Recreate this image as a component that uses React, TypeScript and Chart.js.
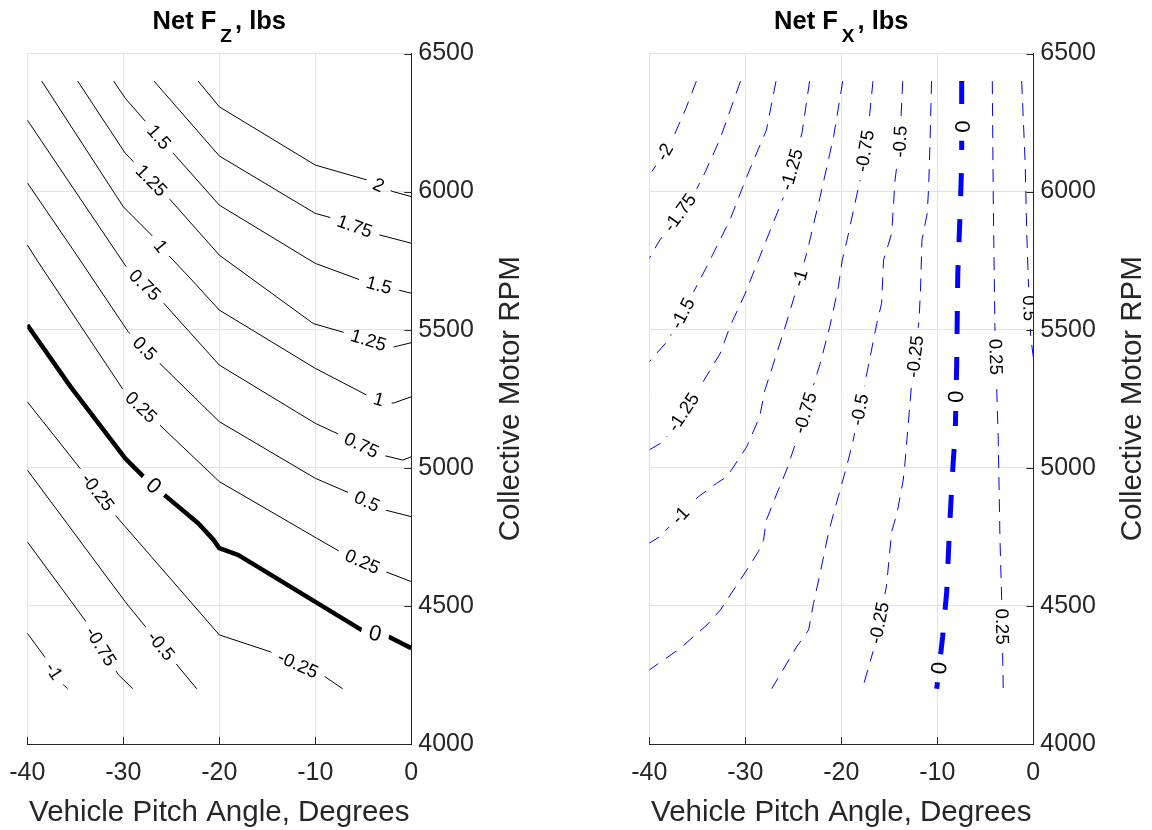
import React, { useEffect, useRef } from "react";
import { Chart, registerables } from "chart.js";
Chart.register(...registerables);

type Pt = [number, number];
type Lbl = [number, number, number]; // level, pitch, rpm

const FONT = "'Liberation Sans', Arial, Helvetica, sans-serif";
const AXIS = "#262626";
const GRID = "#e3e3e3";

const pitchTicks = [-40, -30, -20, -10, 0];
const rpmTicks = [4000, 4500, 5000, 5500, 6000, 6500];

// ---------- Net Fz contours: [pitch deg, rpm] ----------
const fzP200: Pt[] = [[-22.2, 6400], [-20, 6307], [-10, 6096], [-4.6, 6042], [-1.9, 6000], [0, 5982]];
const fzP175: Pt[] = [[-26.8, 6400], [-20, 6129], [-10, 5921], [-8.2, 5904], [-3.3, 5843], [0, 5813]];
const fzP150: Pt[] = [[-31.0, 6400], [-29.8, 6338], [-24.8, 6139], [-20, 5951], [-10, 5740], [-5.3, 5680], [-1.4, 5644], [0, 5632]];
const fzP125: Pt[] = [[-34.75, 6400], [-29.8, 6139], [-25.1, 5970], [-20, 5770], [-10.2, 5522], [-6.9, 5489], [-2.0, 5436], [0, 5453]];
const fzP100: Pt[] = [[-38.5, 6400], [-30, 5945], [-26.9, 5837], [-25.5, 5777], [-23.05, 5687], [-20, 5571], [-10, 5360], [-4.3, 5257], [-1.9, 5234], [0, 5257]];
const fzP075: Pt[] = [[-40, 6259], [-29.7, 5728], [-25.8, 5596], [-20, 5372], [-10, 5161], [-7.4, 5119], [-3.0, 5046], [-0.9, 5028], [0, 5040]];
const fzP050: Pt[] = [[-40, 6032], [-34.5, 5752], [-29.5, 5493], [-26.2, 5378], [-20, 5167], [-10, 4962], [-6.4, 4908], [-2.7, 4847], [0, 4823]];
const fzP025: Pt[] = [[-40, 5807], [-39, 5752], [-30, 5282], [-26.2, 5155], [-20, 4950], [-9.85, 4745], [-7.4, 4696], [-2.7, 4624], [0, 4588]];
const fzZero: Pt[] = [[-40, 5517], [-35.5, 5294], [-29.8, 5034], [-27.9, 4968], [-25.7, 4901], [-22.2, 4799], [-20.6, 4739], [-20, 4709], [-18, 4684], [-5.2, 4413], [-2.4, 4389], [0, 4347]];
const fzM025: Pt[] = [[-40, 5239], [-34.5, 4998], [-30.7, 4823], [-20, 4395], [-14.7, 4334], [-9, 4244], [-7.15, 4200]];
const fzM050: Pt[] = [[-40, 4992], [-29.8, 4515], [-27.7, 4425], [-24.4, 4286], [-22.35, 4200]];
const fzM075: Pt[] = [[-40, 4732], [-34, 4449], [-30.5, 4250], [-29, 4200]];
const fzM100: Pt[] = [[-40, 4401], [-38.2, 4316], [-36.4, 4220], [-35.8, 4200]];

const fzLabels: Lbl[] = [
  [2, -3.4, 6024],
  [1.75, -5.9, 5873],
  [1.5, -26.4, 6194], [1.5, -3.4, 5656],
  [1.25, -27.2, 6036], [1.25, -4.5, 5457],
  [1, -26.2, 5800], [1, -3.4, 5245],
  [0.75, -27.9, 5656], [0.75, -5.34, 5071],
  [0.5, -27.9, 5427], [0.5, -4.8, 4865],
  [0.25, -28.26, 5215], [0.25, -5.17, 4654],
  [0, -26.9, 4932], [0, -3.8, 4395],
  [-0.25, -32.8, 4908], [-0.25, -11.9, 4280],
  [-0.5, -26.2, 4352],
  [-0.75, -32.4, 4352],
  [-1, -37.3, 4262],
];

// ---------- Net Fx contours: [pitch deg, rpm] ----------
const fxM200: Pt[] = [[-35.1, 6400], [-36.2, 6300], [-37.4, 6205], [-38.9, 6114], [-40, 6060]];
const fxM175: Pt[] = [[-30.5, 6400], [-31.6, 6292], [-32.6, 6193], [-34.2, 6069], [-35.1, 6007], [-38.9, 5825], [-40, 5759]];
const fxM150: Pt[] = [[-26.8, 6400], [-27.8, 6223], [-29.85, 6054], [-31.6, 5897], [-34.2, 5716], [-38.0, 5463], [-40, 5384]];
const fxM125: Pt[] = [[-23.3, 6400], [-24.1, 6211], [-26.0, 5982], [-27.8, 5825], [-30.0, 5632], [-31.6, 5511], [-32.6, 5415], [-34.7, 5294], [-38.5, 5095], [-40, 5065]];
const fxM100: Pt[] = [[-19.85, 6400], [-20.8, 6199], [-22.2, 5982], [-23.6, 5777], [-25.0, 5608], [-26.0, 5493], [-27.95, 5282], [-28.5, 5185], [-29.85, 5076], [-31.9, 4968], [-33.0, 4944], [-34.9, 4895], [-38.9, 4751], [-40, 4727]];
const fxM075: Pt[] = [[-16.7, 6400], [-17.2, 6223], [-18.05, 6042], [-19.4, 5825], [-19.9, 5752], [-20.3, 5656], [-21.2, 5511], [-22.2, 5378], [-24.65, 5101], [-25.7, 4992], [-26.7, 4908], [-27.8, 4811], [-28.1, 4739], [-28.65, 4696], [-29.85, 4630], [-32.6, 4485], [-34.0, 4431], [-36.8, 4346], [-40, 4268]];
const fxM050: Pt[] = [[-13.6, 6400], [-13.9, 6181], [-14.4, 6042], [-14.75, 5849], [-15.6, 5752], [-15.8, 5596], [-16.3, 5523], [-17.2, 5366], [-18.75, 5101], [-19.45, 5004], [-20.8, 4835], [-21.35, 4763], [-22.2, 4618], [-22.9, 4509], [-23.4, 4413], [-24.65, 4352], [-27.25, 4200]];
const fxM025: Pt[] = [[-10.6, 6400], [-10.75, 6187], [-10.9, 6018], [-11.05, 5921], [-11.6, 5825], [-11.75, 5644], [-11.9, 5535], [-12.7, 5294], [-13.05, 5149], [-13.4, 5004], [-13.55, 4956], [-14.2, 4835], [-14.75, 4769], [-15.3, 4570], [-16.7, 4334], [-17.8, 4200]];
const fxZero: Pt[] = [[-7.46, 6400], [-7.46, 6108], [-7.6, 5945], [-7.87, 5698], [-7.98, 5372], [-8.13, 5131], [-8.44, 4968], [-8.75, 4763], [-9.02, 4551], [-9.44, 4389], [-10.06, 4200]];
const fxP025: Pt[] = [[-4.27, 6400], [-4.17, 5970], [-4.0, 5511], [-3.65, 5101], [-3.47, 4739], [-3.3, 4533], [-3.13, 4200]];
const fxP050: Pt[] = [[-1.21, 6400], [-0.86, 6114], [-0.68, 5849], [-0.52, 5680], [-0.27, 5475], [0, 5401]];

const fxLabels: Lbl[] = [
  [-2, -38.1, 6137],
  [-1.75, -36.8, 5923],
  [-1.5, -36.5, 5559],
  [-1.25, -25.0, 6078], [-1.25, -36.3, 5198],
  [-1, -24.3, 5687], [-1, -36.8, 4829],
  [-0.75, -17.2, 6145], [-0.75, -23.6, 5197],
  [-0.5, -13.9, 6181], [-0.5, -17.9, 5209],
  [-0.25, -12.15, 5402], [-0.25, -15.8, 4437],
  [0, -7.3, 6235], [0, -8.0, 5257], [0, -9.7, 4274],
  [0.25, -4.0, 5402], [0.25, -3.5, 4425],
  [0.5, -0.6, 5578],
];

type Contour = { level: number; pts: Pt[] };
type PanelSpec = {
  sub: string;
  contours: Contour[];
  labels: Lbl[];
  color: string;
  dashed: boolean;
  offsetLeft: number;
  padLeft: number;
  yWidth: number;
};

const fzPanel: PanelSpec = {
  sub: "Z",
  contours: [
    { level: 2, pts: fzP200 }, { level: 1.75, pts: fzP175 }, { level: 1.5, pts: fzP150 },
    { level: 1.25, pts: fzP125 }, { level: 1, pts: fzP100 }, { level: 0.75, pts: fzP075 },
    { level: 0.5, pts: fzP050 }, { level: 0.25, pts: fzP025 }, { level: 0, pts: fzZero },
    { level: -0.25, pts: fzM025 }, { level: -0.5, pts: fzM050 }, { level: -0.75, pts: fzM075 },
    { level: -1, pts: fzM100 },
  ],
  labels: fzLabels,
  color: "#000000",
  dashed: false,
  offsetLeft: 0,
  padLeft: 27.3,
  yWidth: 164.7,
};

const fxPanel: PanelSpec = {
  sub: "X",
  contours: [
    { level: -2, pts: fxM200 }, { level: -1.75, pts: fxM175 }, { level: -1.5, pts: fxM150 },
    { level: -1.25, pts: fxM125 }, { level: -1, pts: fxM100 }, { level: -0.75, pts: fxM075 },
    { level: -0.5, pts: fxM050 }, { level: -0.25, pts: fxM025 }, { level: 0, pts: fxZero },
    { level: 0.25, pts: fxP025 }, { level: 0.5, pts: fxP050 },
  ],
  labels: fxLabels,
  color: "#0000ff",
  dashed: true,
  offsetLeft: 576,
  padLeft: 73.3,
  yWidth: 118.7,
};

const LABEL_FONT = `18.5px ${FONT}`;
const ZERO_FONT = `22px ${FONT}`;

function computeLabels(chart: any, spec: PanelSpec) {
  const xs = chart.scales.x;
  const ys = chart.scales.y;
  const ctx = chart.ctx;
  ctx.save();
  const out = spec.labels.map(([lv, lx, ly]) => {
    const c = spec.contours.find((k) => k.level === lv)!;
    const px = xs.getPixelForValue(lx);
    const py = ys.getPixelForValue(ly);
    let best = { d: Infinity, x: px, y: py, a: 0 };
    for (let i = 0; i < c.pts.length - 1; i++) {
      const ax = xs.getPixelForValue(c.pts[i][0]);
      const ay = ys.getPixelForValue(c.pts[i][1]);
      const bx = xs.getPixelForValue(c.pts[i + 1][0]);
      const by = ys.getPixelForValue(c.pts[i + 1][1]);
      const dx = bx - ax;
      const dy = by - ay;
      const l2 = dx * dx + dy * dy;
      let t = l2 > 0 ? ((px - ax) * dx + (py - ay) * dy) / l2 : 0;
      t = Math.max(0, Math.min(1, t));
      const qx = ax + t * dx;
      const qy = ay + t * dy;
      const d = Math.hypot(px - qx, py - qy);
      if (d < best.d) best = { d, x: qx, y: qy, a: Math.atan2(dy, dx) };
    }
    let a = best.a;
    if (a > Math.PI / 2 + 1e-9) a -= Math.PI;
    else if (a <= -Math.PI / 2) a += Math.PI;
    const text = String(lv);
    const font = lv === 0 ? ZERO_FONT : LABEL_FONT;
    ctx.font = font;
    const w = ctx.measureText(text).width;
    return { x: best.x, y: best.y, a, text, w, font, hh: lv === 0 ? 11 : 9 };
  });
  ctx.restore();
  return out;
}

function makePlugin(spec: PanelSpec) {
  let geoms: any[] = [];
  return {
    id: "contourDecor" + spec.sub,
    beforeDatasetsDraw(chart: any) {
      geoms = computeLabels(chart, spec);
      const ctx = chart.ctx;
      ctx.save();
      ctx.beginPath();
      ctx.rect(0, 0, chart.width, chart.height);
      for (const g of geoms) {
        const hw = g.w / 2 + 8;
        const hh = g.hh;
        const cs = Math.cos(g.a);
        const sn = Math.sin(g.a);
        const corners = [[-hw, -hh], [hw, -hh], [hw, hh], [-hw, hh]].map(([u, v]) => [
          g.x + u * cs - v * sn,
          g.y + u * sn + v * cs,
        ]);
        ctx.moveTo(corners[0][0], corners[0][1]);
        for (let i = 1; i < 4; i++) ctx.lineTo(corners[i][0], corners[i][1]);
        ctx.closePath();
      }
      ctx.clip("evenodd");
    },
    afterDatasetsDraw(chart: any) {
      const ctx = chart.ctx;
      ctx.restore();
      const area = chart.chartArea;
      ctx.save();
      ctx.beginPath();
      ctx.rect(area.left, area.top, area.right - area.left, area.bottom - area.top);
      ctx.clip();
      ctx.fillStyle = "#000000";
      ctx.textAlign = "center";
      ctx.textBaseline = "middle";
      for (const g of geoms) {
        ctx.save();
        ctx.font = g.font;
        ctx.translate(g.x, g.y);
        ctx.rotate(g.a);
        ctx.fillText(g.text, 0, 1);
        ctx.restore();
      }
      ctx.restore();
    },
    afterDraw(chart: any) {
      const ctx = chart.ctx;
      const area = chart.chartArea;
      const xs = chart.scales.x;
      const ys = chart.scales.y;
      ctx.save();
      // inward tick marks
      ctx.strokeStyle = AXIS;
      ctx.lineWidth = 1;
      ctx.beginPath();
      for (const v of pitchTicks) {
        const px = Math.round(xs.getPixelForValue(v)) + 0.5;
        ctx.moveTo(px, area.bottom);
        ctx.lineTo(px, area.bottom - 7);
      }
      for (const v of rpmTicks) {
        const py = Math.round(ys.getPixelForValue(v)) + 0.5;
        ctx.moveTo(area.right, py);
        ctx.lineTo(area.right - 7, py);
      }
      ctx.stroke();

      // title with subscript
      const cx = (area.left + area.right) / 2;
      const big = `bold 25.5px ${FONT}`;
      const small = `bold 19px ${FONT}`;
      ctx.fillStyle = "#000000";
      ctx.textBaseline = "alphabetic";
      ctx.textAlign = "left";
      ctx.font = big;
      const w1 = ctx.measureText("Net F").width;
      const w3 = ctx.measureText(", lbs").width;
      ctx.font = small;
      const w2 = ctx.measureText(spec.sub).width;
      const total = w1 + 4 + w2 + 3 + w3;
      const sx = cx - total / 2;
      ctx.font = big;
      ctx.fillText("Net F", sx, 28.5);
      ctx.font = small;
      ctx.fillText(spec.sub, sx + w1 + 4, 41.5);
      ctx.font = big;
      ctx.fillText(", lbs", sx + w1 + 4 + w2 + 3, 28.5);

      // axis titles
      ctx.fillStyle = AXIS;
      ctx.font = `29.5px ${FONT}`;
      ctx.textAlign = "center";
      ctx.fillText("Vehicle Pitch Angle, Degrees", cx, 821);
      ctx.save();
      ctx.translate(area.right + 108, (area.top + area.bottom) / 2);
      ctx.rotate(-Math.PI / 2);
      ctx.fillText("Collective Motor RPM", 0, 0);
      ctx.restore();
      ctx.restore();
    },
  };
}

function Panel({ spec }: { spec: PanelSpec }) {
  const ref = useRef<HTMLCanvasElement>(null);
  useEffect(() => {
    const canvas = ref.current!;
    const datasets = spec.contours.map((c) => ({
      data: c.pts.map(([x, y]) => ({ x, y })),
      borderColor: spec.color,
      backgroundColor: spec.color,
      borderWidth: c.level === 0 ? (spec.dashed ? 5 : 4.5) : 1,
      borderDash: spec.dashed ? (c.level === 0 ? [23, 23] : [13, 9]) : [],
      pointRadius: 0,
      pointHoverRadius: 0,
      fill: false,
      tension: 0,
      borderCapStyle: "butt",
      borderJoinStyle: "round",
    }));
    const chart = new Chart(canvas, {
      type: "line",
      data: { datasets } as any,
      options: {
        responsive: false,
        animation: false,
        devicePixelRatio: 1,
        events: [],
        layout: { padding: { left: spec.padLeft, top: 53.5, right: 0, bottom: 0 } },
        plugins: {
          legend: { display: false },
          tooltip: { enabled: false },
          title: { display: false },
        },
        scales: {
          x: {
            type: "linear",
            min: -40,
            max: 0,
            afterBuildTicks: (s: any) => {
              s.ticks = pitchTicks.map((v) => ({ value: v }));
            },
            afterFit: (s: any) => {
              s.height = 86;
              s.paddingLeft = 0;
              s.paddingRight = 0;
            },
            grid: { color: GRID, drawTicks: false, lineWidth: 1 },
            border: { color: AXIS, width: 1 },
            ticks: {
              padding: 14,
              maxRotation: 0,
              autoSkip: false,
              color: AXIS,
              font: { size: 25, family: FONT },
              callback: (v: any) => String(v),
            },
          },
          y: {
            type: "linear",
            position: "right",
            min: 4000,
            max: 6500,
            afterBuildTicks: (s: any) => {
              s.ticks = rpmTicks.map((v) => ({ value: v }));
            },
            afterFit: (s: any) => {
              s.width = spec.yWidth;
              s.paddingTop = 0;
              s.paddingBottom = 0;
            },
            grid: { color: GRID, drawTicks: false, lineWidth: 1 },
            border: { color: AXIS, width: 1 },
            ticks: {
              padding: 7,
              color: AXIS,
              font: { size: 25, family: FONT },
              callback: (v: any) => String(v),
            },
          },
        },
      } as any,
      plugins: [makePlugin(spec)],
    });
    return () => chart.destroy();
  }, [spec]);
  return (
    <canvas
      ref={ref}
      width={576}
      height={830}
      style={{ position: "absolute", left: spec.offsetLeft, top: 0, width: 576, height: 830 }}
    />
  );
}

export default function App() {
  return (
    <div style={{ position: "absolute", left: 0, top: 0, width: 1152, height: 830, background: "#ffffff" }}>
      <Panel spec={fzPanel} />
      <Panel spec={fxPanel} />
    </div>
  );
}
